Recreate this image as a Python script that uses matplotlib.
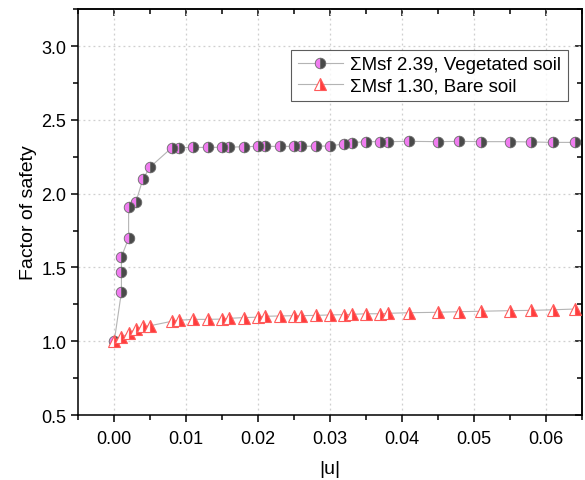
import matplotlib

matplotlib.use("Agg")
import matplotlib.pyplot as plt
from matplotlib.ticker import MultipleLocator

plt.rcParams["font.family"] = ["Liberation Sans", "DejaVu Sans"]

# vegetated soil (sum Msf 2.39)
veg_u = [0.0, 0.001, 0.001, 0.001, 0.002, 0.002, 0.003, 0.004, 0.005,
         0.008, 0.009, 0.011, 0.013, 0.015, 0.016, 0.018, 0.020, 0.021,
         0.023, 0.025, 0.026, 0.028, 0.030, 0.032, 0.033, 0.035, 0.037,
         0.038, 0.041, 0.045, 0.048, 0.051, 0.055, 0.058, 0.061, 0.064]
veg_fs = [1.00, 1.333, 1.469, 1.572, 1.697, 1.911, 1.941, 2.101, 2.180,
          2.311, 2.311, 2.313, 2.313, 2.314, 2.314, 2.318, 2.320, 2.320,
          2.320, 2.320, 2.320, 2.322, 2.322, 2.338, 2.345, 2.352, 2.352,
          2.352, 2.354, 2.352, 2.354, 2.352, 2.352, 2.350, 2.347, 2.347]

# bare soil (sum Msf 1.30)
bare_u = [0.0, 0.001, 0.002, 0.003, 0.004, 0.005, 0.008, 0.009, 0.011,
          0.013, 0.015, 0.016, 0.018, 0.020, 0.021, 0.023, 0.025, 0.026,
          0.028, 0.030, 0.032, 0.033, 0.035, 0.037, 0.038, 0.041, 0.045,
          0.048, 0.051, 0.055, 0.058, 0.061, 0.064]
bare_fs = [1.00, 1.026, 1.053, 1.083, 1.101, 1.105, 1.135, 1.142, 1.148,
           1.148, 1.150, 1.155, 1.160, 1.163, 1.169, 1.171, 1.173, 1.173,
           1.175, 1.178, 1.180, 1.182, 1.186, 1.186, 1.189, 1.193, 1.196,
           1.200, 1.203, 1.207, 1.209, 1.213, 1.218]

labels = ["\u03a3Msf 2.39, Vegetated soil", "\u03a3Msf 1.30, Bare soil"]

fig = plt.figure(figsize=(5.85, 4.81), dpi=100)
ax = fig.add_axes([0.1338, 0.1351, 0.8606, 0.8439])

ax.plot(veg_u, veg_fs, color="#b4b4b4", lw=0.8, marker="o", ms=7.6,
        fillstyle="left", mfc="#f07cf0", mfcalt="#4a4a4a", mec="#6a6a6a",
        mew=0.6, label=labels[0], zorder=3)
ax.plot(bare_u, bare_fs, color="#b4b4b4", lw=0.8, marker="^", ms=9,
        fillstyle="right", mfc="#ff3c3c", mfcalt="white", mec="#ff5a5a",
        mew=0.8, label=labels[1], zorder=4)

ax.set_xlim(-0.005, 0.065)
ax.set_ylim(0.5, 3.25)
ax.xaxis.set_major_locator(MultipleLocator(0.01))
ax.xaxis.set_minor_locator(MultipleLocator(0.005))
ax.yaxis.set_major_locator(MultipleLocator(0.5))
ax.yaxis.set_minor_locator(MultipleLocator(0.25))
ax.xaxis.set_major_formatter(plt.FormatStrFormatter("%.2f"))
ax.yaxis.set_major_formatter(plt.FormatStrFormatter("%.1f"))

ax.grid(True, which="major", ls=(0, (1.5, 2.5)), color="#cfcfcf", lw=0.9)
ax.set_axisbelow(True)
for s in ax.spines.values():
    s.set_linewidth(1.1)

ax.tick_params(which="both", direction="out", top=False, right=False,
               labelsize=13, width=1.1)
ax.tick_params(which="major", length=5)
ax.tick_params(which="minor", length=3.5)
ax.tick_params(axis="x", pad=6)

# inward ticks on top and right, as in the original
sec = ax.secondary_xaxis("top")
sec.xaxis.set_major_locator(MultipleLocator(0.01))
sec.xaxis.set_minor_locator(MultipleLocator(0.005))
sec.tick_params(which="both", direction="in", labeltop=False, width=1.1)
sec.tick_params(which="major", length=5)
sec.tick_params(which="minor", length=3.5)
sec.spines["top"].set_linewidth(1.1)
secy = ax.secondary_yaxis("right")
secy.yaxis.set_major_locator(MultipleLocator(0.5))
secy.yaxis.set_minor_locator(MultipleLocator(0.25))
secy.tick_params(which="both", direction="in", labelright=False, width=1.1)
secy.tick_params(which="major", length=5)
secy.tick_params(which="minor", length=3.5)
secy.spines["right"].set_linewidth(1.1)

ax.set_xlabel("|u|", fontsize=14, labelpad=9)
ax.set_ylabel("Factor of safety", fontsize=14, labelpad=3)

leg = ax.legend(loc="upper right", bbox_to_anchor=(0.972, 0.9),
                fontsize=13.5, frameon=True, fancybox=False,
                edgecolor="#333333", handlelength=2.4, borderpad=0.35,
                labelspacing=0.2, handletextpad=0.4, borderaxespad=0)
leg.get_frame().set_linewidth(0.8)

fig.savefig("out.png", dpi=100)
